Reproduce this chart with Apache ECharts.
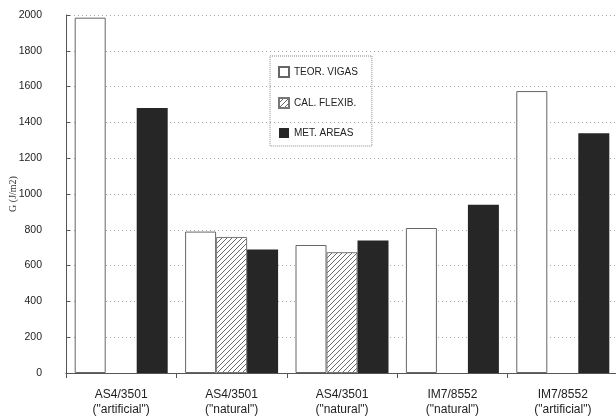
<!DOCTYPE html>
<html>
<head>
<meta charset="utf-8">
<script src="https://cdn.jsdelivr.net/npm/echarts@6/dist/echarts.min.js"></script>
<style>
  html, body { margin: 0; padding: 0; background: #fff; }
  #chart { width: 616px; height: 419px; }
</style>
</head>
<body>
<div id="chart"></div>
<script>
// Fracture toughness G for each material / precrack type
const categories = [
  'AS4/3501\n("artificial")',
  'AS4/3501\n("natural")',
  'AS4/3501\n("natural")',
  'IM7/8552\n("natural")',
  'IM7/8552\n("artificial")'
];
const seriesNames = ['TEOR. VIGAS', 'CAL. FLEXIB.', 'MET. AREAS'];
const teorVigas = [1985, 790, 715, 810, 1575];
const calFlexib = [null, 760, 675, null, null];
const metAreas = [1480, 690, 740, 940, 1340];
const yTicks = { min: 0, max: 2000, interval: 200 };

// diagonal hatch fill for the flexibility series
function hatch() {
  const c = document.createElement('canvas');
  c.width = 5; c.height = 5;
  const g = c.getContext('2d');
  g.fillStyle = '#fff';
  g.fillRect(0, 0, 5, 5);
  g.strokeStyle = '#6a6a6a';
  g.lineWidth = 1;
  g.beginPath();
  g.moveTo(-1, 6); g.lineTo(6, -1);
  g.moveTo(-1, 1); g.lineTo(1, -1);
  g.moveTo(4, 6); g.lineTo(6, 4);
  g.stroke();
  return c;
}

const chart = echarts.init(document.getElementById('chart'), null, { renderer: 'canvas' });
const font = 'Liberation Sans';

chart.setOption({
  animation: false,
  backgroundColor: '#fff',
  grid: { left: 66, top: 15, width: 552, height: 358, containLabel: false, outerBoundsMode: 'none' },
  legend: {
    orient: 'vertical',
    left: 270, top: 56,
    data: seriesNames,
    icon: 'rect',
    itemWidth: 10, itemHeight: 10,
    itemGap: 19,
    padding: [10, 14, 8, 8],
    borderColor: '#888',
    borderWidth: 1,
    borderType: 'dotted',
    textStyle: { fontFamily: font, fontSize: 10, color: '#222' }
  },
  xAxis: {
    type: 'category',
    data: categories,
    axisLine: { lineStyle: { color: '#555', width: 1 } },
    axisTick: { show: true, length: 5, lineStyle: { color: '#555' } },
    axisLabel: {
      margin: 14, fontFamily: font, fontSize: 12, color: '#222', lineHeight: 15
    },
    splitLine: { show: false }
  },
  yAxis: {
    type: 'value',
    min: yTicks.min, max: yTicks.max, interval: yTicks.interval,
    name: 'G (J/m2)',
    nameLocation: 'middle',
    nameGap: 48,
    nameMoveOverlap: false,
    nameTextStyle: { fontFamily: 'Liberation Serif', fontSize: 10, color: '#333' },
    axisLine: { show: true, lineStyle: { color: '#555', width: 1 } },
    axisTick: { show: true, inside: true, length: 4, lineStyle: { color: '#555' } },
    axisLabel: {
      margin: 24, fontFamily: font, fontSize: 10.5, color: '#222',
      formatter: (v) => String(v)
    },
    splitLine: { show: true, lineStyle: { color: '#aaa', type: [1, 3], width: 1 } }
  },
  series: [
    {
      name: seriesNames[0], type: 'bar', data: teorVigas,
      barWidth: 31, barGap: '0%',
      itemStyle: { color: '#fff', borderColor: '#666', borderWidth: 1 }
    },
    {
      name: seriesNames[1], type: 'bar', data: calFlexib,
      barWidth: 31, barGap: '0%',
      itemStyle: { color: { image: hatch(), repeat: 'repeat' }, borderColor: '#777', borderWidth: 1 }
    },
    {
      name: seriesNames[2], type: 'bar', data: metAreas,
      barWidth: 31, barGap: '0%',
      itemStyle: { color: '#262626', borderColor: '#222', borderWidth: 0 }
    }
  ]
});
</script>
</body>
</html>
